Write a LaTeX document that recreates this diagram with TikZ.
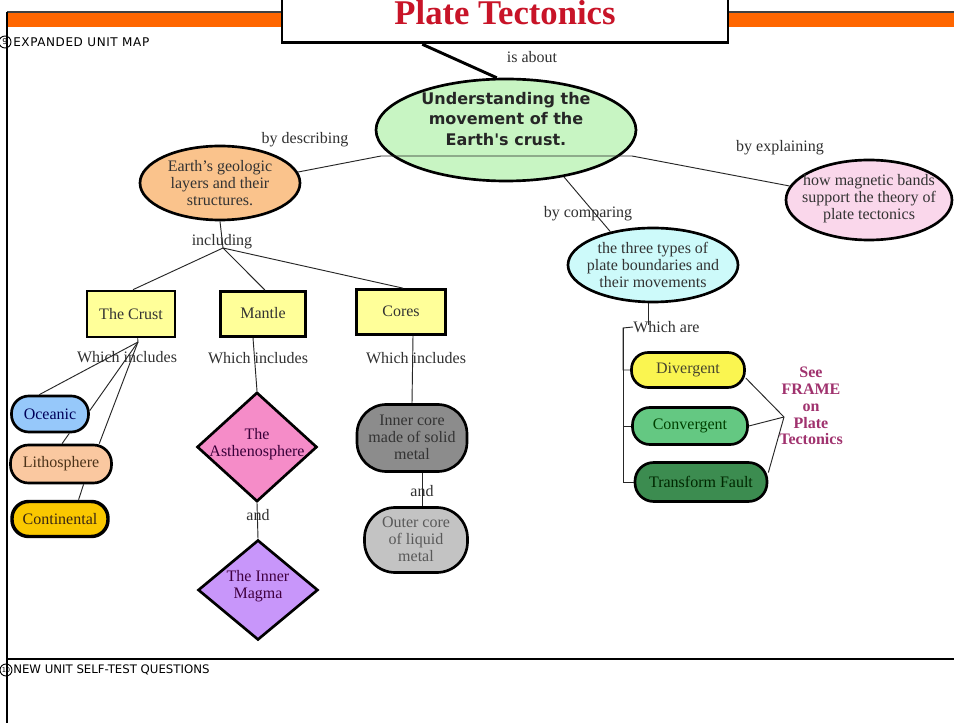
\documentclass[tikz,border=0pt]{standalone}
\usepackage{fontspec}
\setmainfont{Liberation Serif}
\newfontfamily\headsans{DejaVu Sans}
\newfontfamily\headcaps{DejaVu Sans}[LetterSpace=5]
\usetikzlibrary{shapes.geometric}

\definecolor{barorange}{RGB}{255,102,0}
\definecolor{titlered}{RGB}{200,20,40}
\definecolor{maingreen}{RGB}{200,245,195}
\definecolor{geopeach}{RGB}{250,195,140}
\definecolor{magpink}{RGB}{250,215,235}
\definecolor{boundcyan}{RGB}{205,250,250}
\definecolor{layeryellow}{RGB}{255,255,153}
\definecolor{oceblue}{RGB}{150,200,250}
\definecolor{lithpeach}{RGB}{250,200,160}
\definecolor{contgold}{RGB}{250,200,0}
\definecolor{asthpink}{RGB}{245,140,200}
\definecolor{magmalilac}{RGB}{200,150,250}
\definecolor{innergray}{RGB}{140,140,140}
\definecolor{outergray}{RGB}{195,195,195}
\definecolor{divyellow}{RGB}{250,245,80}
\definecolor{convgreen}{RGB}{100,200,130}
\definecolor{transgreen}{RGB}{60,140,80}
\definecolor{framepurple}{RGB}{160,50,110}
\definecolor{labelgray}{RGB}{48,48,48}

\tikzset{
  shapebox/.style={draw=black, line width=2pt, inner sep=0pt},
  oval/.style={shapebox, ellipse},
  layerbox/.style={shapebox, rectangle, fill=layeryellow},
  pill/.style={shapebox, rectangle},
  gem/.style={shapebox, diamond},
  nodetext/.style={align=center, inner sep=0pt, font=\fontsize{12}{12.8}\selectfont},
  linktext/.style={inner sep=0pt, text=labelgray, font=\fontsize{12}{12}\selectfont},
  conn/.style={draw=black!85, line width=0.7pt},
  heavyconn/.style={draw=black, line width=2.2pt},
  headtext/.style={inner sep=0pt, anchor=west},
  headnum/.style={draw, circle, line width=0.7pt, minimum size=9pt, inner sep=0pt}
}

\begin{document}
\begin{tikzpicture}[x=0.75pt,y=-0.75pt]
\useasboundingbox (0,0) rectangle (954,723);
\fill[white] (0,0) rectangle (954,723);

% page frame: orange band, left rule, section rule
\fill[barorange] (7,12) rectangle (954,27);
\draw[black!75, line width=0.8pt] (7,12) -- (954,12);
\draw[black, line width=1.2pt] (7,12) -- (7,723);
\draw[black, line width=1.8pt] (7,659) -- (954,659);

% section headings
\node[headnum, font=\headsans\fontsize{6}{6}\selectfont] (nine) at (5,42) {9};
\node[headtext, font=\headcaps\fontsize{9}{9}\selectfont] (maphead) at (13,42) {EXPANDED UNIT MAP};
\node[headnum, font=\headsans\fontsize{5}{5}\selectfont] (ten) at (6,670) {10};
\node[headtext, font=\headsans\fontsize{8.8}{8.8}\selectfont] (testhead) at (13,670) {NEW UNIT SELF-TEST QUESTIONS};

% title box
\node[draw=black, fill=white, line width=2.2pt, minimum width=334.5pt,
      minimum height=47pt, inner sep=0pt] (title) at (505,11.5) {};
\node[anchor=base, inner sep=0pt, text=titlered,
      font=\bfseries\fontsize{26}{26}\selectfont] (titletext) at (505,25) {Plate Tectonics};

% main idea
\node[oval, fill=maingreen, minimum width=195pt, minimum height=76.5pt] (main) at (506,130) {};
\node[align=center, inner sep=0pt, text=black!85,
      font=\headsans\bfseries\fontsize{12}{15.4}\selectfont] (maintext) at (506,119)
      {Understanding the\\movement of the\\Earth's crust.};

% second level
\node[oval, fill=geopeach, minimum width=120pt, minimum height=55.5pt] (geo) at (220,183) {};
\node[nodetext, text=black!80] (geotext) at (220,183) {Earth's geologic\\layers and their\\structures.};

\node[oval, fill=boundcyan, minimum width=127.5pt, minimum height=55.5pt] (bound) at (653,265) {};
\node[nodetext, text=black!80] (boundtext) at (653,265) {the three types of\\plate boundaries and\\their movements};

\node[oval, fill=magpink, minimum width=124.5pt, minimum height=60pt] (mag) at (869,200) {};
\node[nodetext, text=black!80] (magtext) at (869,199) {how magnetic bands\\support the theory of\\plate tectonics};

% earth layers
\node[layerbox, minimum width=66pt, minimum height=34.5pt] (crust) at (131,314) {};
\node[nodetext, text=black!80] (crusttext) at (131,314) {The Crust};
\node[layerbox, minimum width=63.75pt, minimum height=33.75pt] (mantle) at (263,314) {};
\node[nodetext, text=black!80] (mantletext) at (263,313) {Mantle};
\node[layerbox, minimum width=66.75pt, minimum height=33.75pt] (cores) at (401,312) {};
\node[nodetext, text=black!80] (corestext) at (401,311) {Cores};

% crust parts
\node[pill, fill=oceblue, minimum width=57.75pt, minimum height=27pt, rounded corners=13pt] (oce) at (50,414) {};
\node[nodetext, text=blue!35!black] (ocetext) at (50,414) {Oceanic};
\node[pill, fill=lithpeach, minimum width=75.75pt, minimum height=28.5pt, rounded corners=13.5pt] (lith) at (61,464) {};
\node[nodetext, text=brown!40!black] (lithtext) at (61,464) {Lithosphere};
\node[pill, fill=contgold, line width=2.6pt, minimum width=72pt, minimum height=26.25pt, rounded corners=12.5pt] (cont) at (60,519) {};
\node[nodetext, text=brown!30!black] (conttext) at (60,519) {Continental};

% mantle parts
\node[gem, fill=asthpink, minimum width=90pt, minimum height=82pt] (asth) at (257,447) {};
\node[nodetext, text=violet!45!black] (asthtext) at (257,444) {The\\Asthenosphere};
\node[gem, fill=magmalilac, minimum width=90pt, minimum height=75pt] (magma) at (258,590) {};
\node[nodetext, text=violet!50!black] (magmatext) at (258,586) {The Inner\\Magma};

% core parts
\node[pill, fill=innergray, minimum width=82.5pt, minimum height=50.25pt, rounded corners=22pt] (inner) at (412,438) {};
\node[nodetext, text=black!80] (innertext) at (412,437) {Inner core\\made of solid\\metal};
\node[pill, fill=outergray, minimum width=77.25pt, minimum height=48.75pt, rounded corners=23pt] (outer) at (416,540) {};
\node[nodetext, text=black!65] (outertext) at (416,539) {Outer core\\of liquid\\metal};

% boundary types
\node[pill, fill=divyellow, minimum width=84.75pt, minimum height=26.25pt, rounded corners=12.5pt] (div) at (688,370) {};
\node[nodetext, text=olive!35!black] (divtext) at (688,370) {Divergent};
\node[pill, fill=convgreen, minimum width=86.25pt, minimum height=27.75pt, rounded corners=13pt] (conv) at (690,426) {};
\node[nodetext, text=green!25!black] (convtext) at (690,426) {Convergent};
\node[pill, fill=transgreen, minimum width=99pt, minimum height=29.25pt, rounded corners=14pt] (trans) at (701,482) {};
\node[nodetext, text=green!15!black] (transtext) at (701,482) {Transform Fault};

\node[align=center, inner sep=0pt, text=framepurple,
      font=\bfseries\fontsize{12}{12.6}\selectfont] (frame) at (811,406)
      {See\\FRAME\\on\\Plate\\Tectonics};

% link words
\node[linktext] (isabout) at (532,57) {is about};
\node[linktext] (bydesc) at (305,140) {by describing};
\node[linktext] (byexpl) at (780,148) {by explaining};
\node[linktext] (bycomp) at (588,214) {by comparing};
\node[linktext] (incl) at (222,242) {including};
\node[linktext] (wicrust) at (127,357) {Which includes};
\node[linktext] (wimantle) at (258,358) {Which includes};
\node[linktext] (wicores) at (416,358) {Which includes};
\node[linktext, anchor=west] (whichare) at (633,327) {Which are};
\node[linktext] (andm) at (258,515) {and};
\node[linktext] (andc) at (422,491) {and};

% branch points
\coordinate (mainL) at (381,156);
\coordinate (mainR) at (632,156);
\coordinate (inclJ) at (223,248);
\coordinate (crustJ) at (138,342);
\coordinate (waTop) at (648,325);
\coordinate (waJ) at (623,328);
\coordinate (frameIn) at (784,417);

% connectors
\draw[heavyconn] ([xshift=-62pt]title.south) -- (main.100);
\draw[conn] (geo.8) -- (mainL) -- (mainR) -- (mag.170);
\draw[conn] (main.-39) -- (bound.142);
\draw[conn] (geo.south) -- (inclJ);
\draw[conn] (inclJ) -- ([xshift=1.5pt]crust.north);
\draw[conn] (inclJ) -- ([xshift=1.5pt]mantle.north);
\draw[conn] (inclJ) -- ([xshift=1.5pt]cores.north);

\draw[conn] ([xshift=5pt]crust.south) -- (crustJ);
\draw[conn] (crustJ) -- (oce.119);
\draw[conn] (crustJ) -- (oce.5);
\draw[conn] (crustJ) -- (lith.28);
\draw[conn] (oce.-45) -- (lith.87);
\draw[conn] (lith.-42) -- (cont.46);

\draw[conn] ([xshift=-7.5pt]mantle.south) -- (asth.north);
\draw[conn] (asth.south) -- (magma.north);

\draw[conn] ([xshift=9pt]cores.south) -- (inner.north);
\draw[conn] ([xshift=7.5pt]inner.south) -- ([xshift=4.5pt]outer.north);

\draw[conn] ([xshift=-3.75pt]bound.south) -- (waTop);
\draw[conn] (whichare.west) -- (waJ) |- (div.west);
\draw[conn] (waJ) |- (conv.west);
\draw[conn] (waJ) |- (trans.west);

\draw[conn] (div.-8) -- (frameIn);
\draw[conn] (conv.east) -- (frameIn);
\draw[conn] (trans.8) -- (frameIn);
\end{tikzpicture}
\end{document}
